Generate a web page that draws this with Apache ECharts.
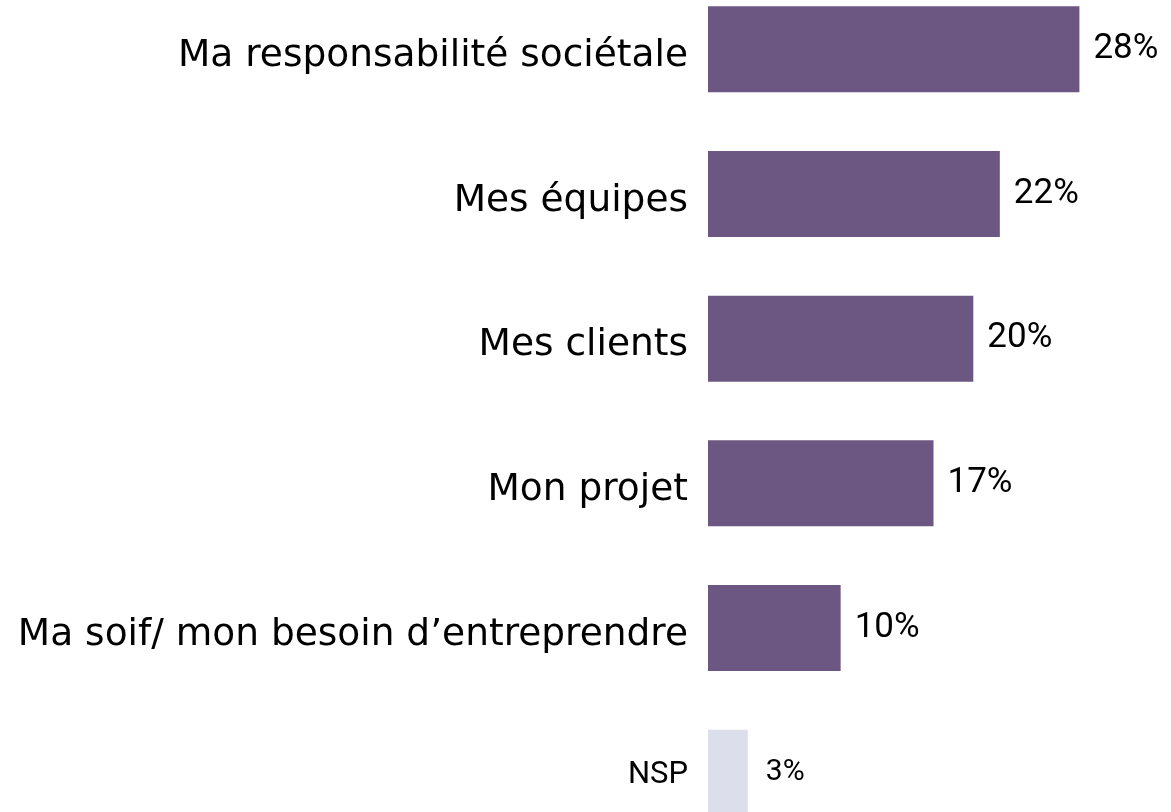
<!DOCTYPE html>
<html>
<head>
<meta charset="utf-8">
<script src="https://cdn.jsdelivr.net/npm/echarts@6/dist/echarts.min.js"></script>
<style>
html,body{margin:0;padding:0;background:#fff;overflow:hidden;width:1171px;height:812px;position:relative;}
#chart{position:absolute;left:0;top:-23px;width:1171px;height:868px;}
</style>
</head>
<body>
<div id="chart"></div>
<script>
const categories = [
  "Ma responsabilité sociétale",
  "Mes équipes",
  "Mes clients",
  "Mon projet",
  "Ma soif/ mon besoin d\u2019entreprendre",
  "NSP"
];
const values = [28, 22, 20, 17, 10, 3];
const secondaryCategory = "NSP";

const mainColor = "#6b5782";
const nspColor = "#dcdeec";

const chart = echarts.init(document.getElementById('chart'), null, {renderer: 'canvas'});

const data = values.map((v, i) => {
  const isNsp = categories[i] === secondaryCategory;
  return {
    value: v,
    itemStyle: {color: isNsp ? nspColor : mainColor},
    label: isNsp ? {fontSize: 30, distance: 18, padding: [4, 0, 0, 0]} : {}
  };
});

chart.setOption({
  animation: false,
  backgroundColor: '#ffffff',
  grid: {left: 708, right: 12, top: 0, bottom: 0, containLabel: false},
  xAxis: {
    type: 'value', min: 0, max: 34,
    show: false
  },
  yAxis: {
    type: 'category',
    data: categories,
    inverse: true,
    axisLine: {show: false},
    axisTick: {show: false},
    splitLine: {show: false},
    axisLabel: {
      margin: 20,
      color: '#000',
      formatter: (v) => v === secondaryCategory ? '{s|' + v + '}' : '{b|' + v + '}',
      rich: {
        b: {fontFamily: 'DejaVu Sans', fontSize: 37.5, color: '#000', padding: [14, 0, 0, 0]},
        s: {fontFamily: 'Roboto', fontSize: 31, color: '#000', padding: [5, 0, 0, 0]}
      }
    }
  },
  series: [{
    type: 'bar',
    data: data,
    barWidth: 86,
    label: {
      show: true,
      position: 'right',
      distance: 14,
      formatter: '{c}%',
      fontFamily: 'Roboto',
      fontSize: 35,
      color: '#000',
      padding: [3, 0, 0, 0]
    }
  }]
});
</script>
</body>
</html>
